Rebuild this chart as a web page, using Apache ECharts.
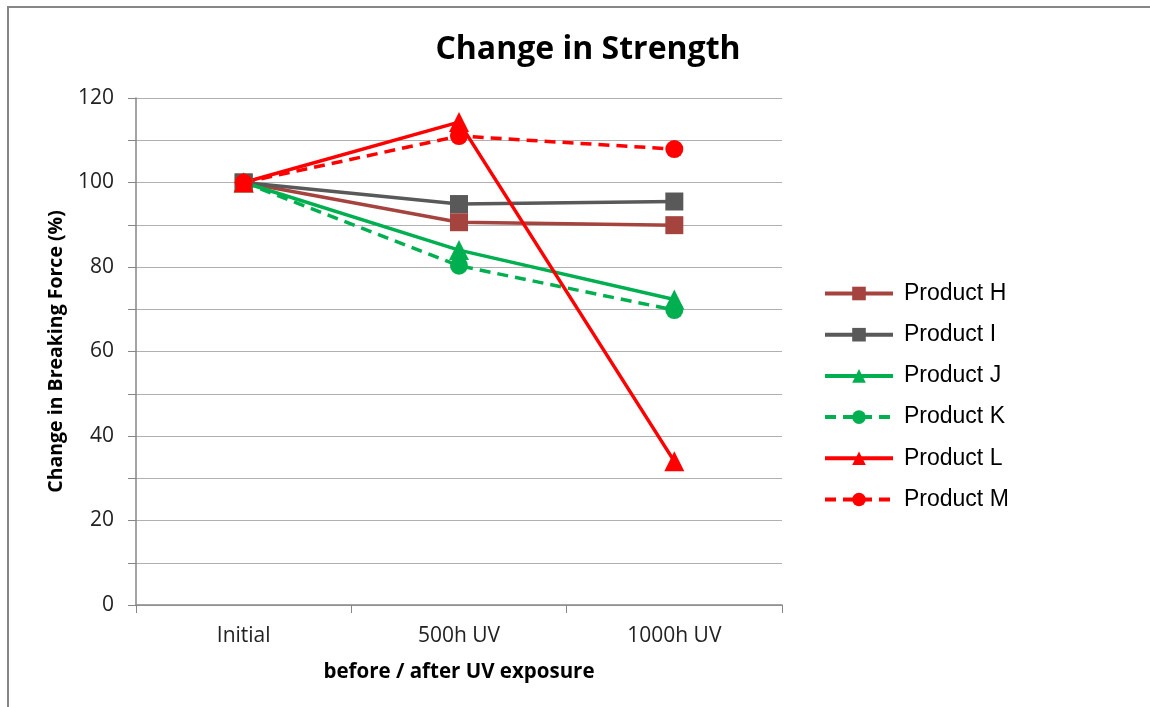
<!DOCTYPE html>
<html>
<head>
<meta charset="utf-8">
<script src="https://cdn.jsdelivr.net/npm/echarts@6/dist/echarts.min.js"></script>
<style>
  html, body { margin: 0; padding: 0; background: #fff; }
  #frame { position: absolute; left: 7px; top: 6px; right: 0; bottom: 0;
           border-left: 2px solid #868686; border-top: 2px solid #868686; }
  #chart { position: absolute; left: 0; top: 0; width: 1150px; height: 707px; }
</style>
</head>
<body>
<div id="frame"></div>
<div id="chart"></div>
<script>
// 数据
const categories = ["Initial", "500h UV", "1000h UV"];
const productH = [100, 90.6, 89.9];
const productI = [100, 94.9, 95.5];
const productJ = [100, 84.0, 72.3];
const productK = [100, 80.3, 69.8];
const productL = [100, 114.3, 34.0];
const productM = [100, 111.0, 107.9];

const myChart = echarts.init(document.getElementById("chart"));

function makeSeries(name, data, color, symbol, size, dashed) {
  return {
    name: name,
    type: "line",
    data: data,
    symbol: symbol,
    symbolSize: size,
    itemStyle: { color: color },
    lineStyle: { color: color, width: 3.5, type: dashed ? [11, 7] : "solid" },
    emphasis: { disabled: true }
  };
}

myChart.setOption({
  animation: false,
  title: {
    text: "Change in Strength",
    left: 583,
    textAlign: "center",
    top: 29,
    textStyle: { fontFamily: "Open Sans", fontSize: 32, fontWeight: "bold", color: "#000" }
  },
  legend: {
    orient: "vertical",
    left: 818,
    top: 277,
    itemWidth: 68,
    itemHeight: 17,
    itemGap: 18.2,
    lineStyle: { width: 4 },
    textStyle: { fontFamily: "Liberation Sans", fontSize: 23, color: "#000", padding: [0, 0, 0, 6] },
    data: ["Product H", "Product I", "Product J", "Product K", "Product L", "Product M"]
  },
  grid: { left: 136, right: 368, top: 98, bottom: 102 },
  xAxis: {
    type: "category",
    data: categories,
    boundaryGap: true,
    name: "before / after UV exposure",
    nameLocation: "middle",
    nameGap: 57,
    nameTextStyle: { fontFamily: "Open Sans", fontSize: 20.5, fontWeight: "bold", color: "#000" },
    axisLine: { lineStyle: { color: "#868686", width: 1.5 } },
    axisTick: { show: true, length: 8, lineStyle: { color: "#868686" } },
    axisLabel: { margin: 21, fontFamily: "Open Sans", fontSize: 21, color: "#222" }
  },
  yAxis: {
    type: "value",
    min: 0,
    max: 120,
    interval: 10,
    name: "Change in Breaking Force (%)",
    nameLocation: "middle",
    nameGap: 70,
    nameTextStyle: { fontFamily: "Open Sans", fontSize: 19.5, fontWeight: "bold", color: "#000" },
    axisLine: { show: true, lineStyle: { color: "#868686", width: 1.5 } },
    axisTick: { show: true, length: 8, lineStyle: { color: "#868686" } },
    axisLabel: {
      margin: 22,
      fontFamily: "Open Sans",
      fontSize: 21,
      color: "#222",
      formatter: function (v) { return v % 20 === 0 ? String(v) : ""; }
    },
    splitLine: { lineStyle: { color: "#B0B0B0", width: 1 } }
  },
  series: [
    makeSeries("Product H", productH, "#A5433F", "rect", 18, false),
    makeSeries("Product I", productI, "#595959", "rect", 18, false),
    makeSeries("Product J", productJ, "#00B050", "triangle", 20, false),
    makeSeries("Product K", productK, "#00B050", "circle", 18, true),
    makeSeries("Product L", productL, "#FF0000", "triangle", 20, false),
    makeSeries("Product M", productM, "#FF0000", "circle", 18, true)
  ]
});
</script>
</body>
</html>
